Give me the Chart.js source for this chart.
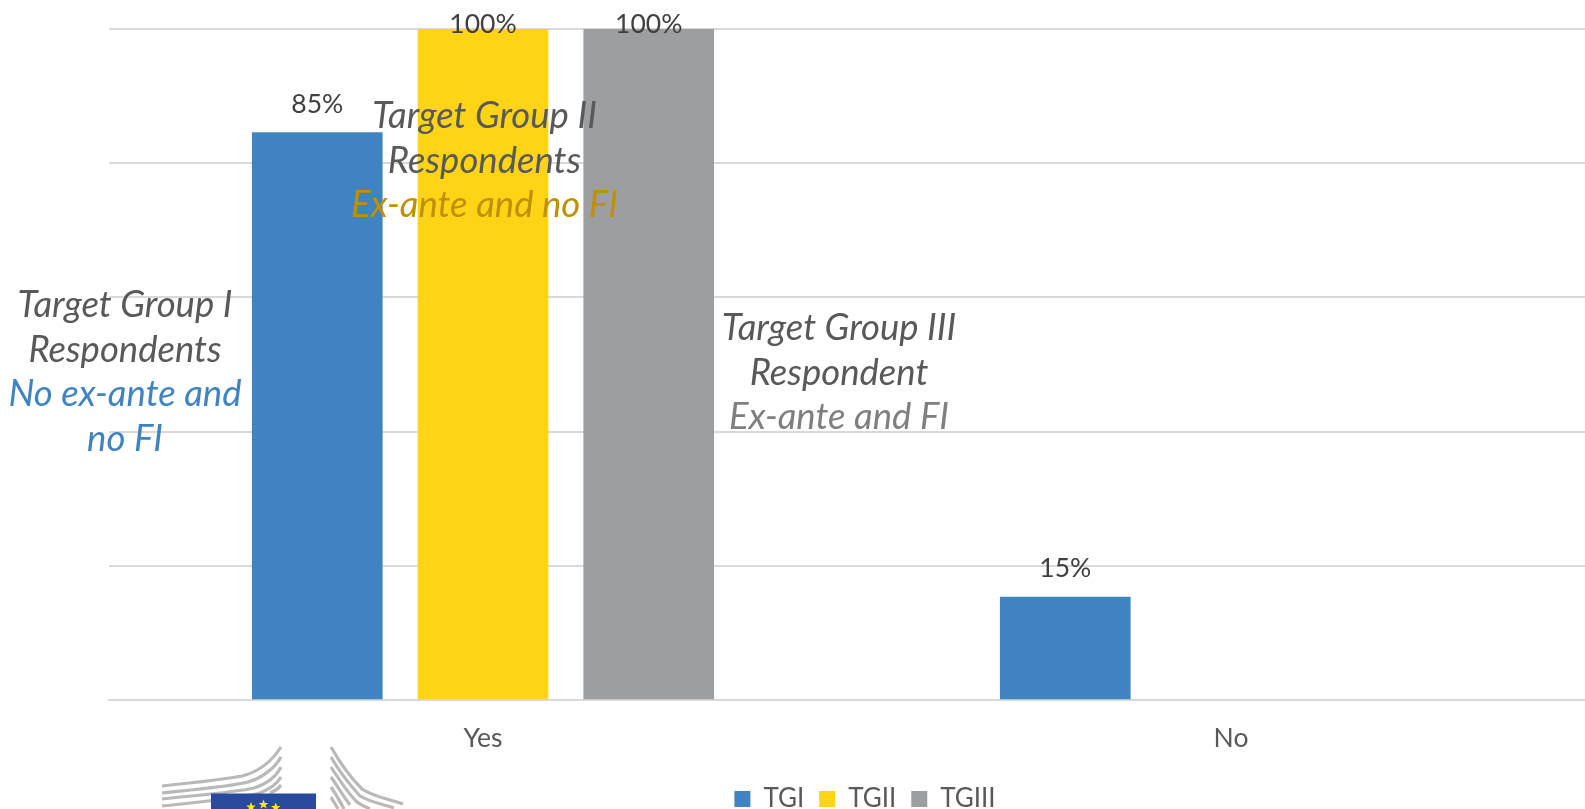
<!DOCTYPE html>
<html>
<head>
<meta charset="utf-8">
<title>Chart</title>
<script src="https://cdn.jsdelivr.net/npm/chart.js@4"></script>
<style>
  html, body { margin: 0; padding: 0; background: #fff; width: 1585px; height: 809px; overflow: hidden; }
  #wrap { position: relative; width: 1585px; height: 809px; overflow: hidden; }
  #wrap canvas { position: absolute; left: 0; top: 0; }
  .note { position: absolute; font: italic 36.5px/44.5px Lato, sans-serif; color: #595959; text-align: center; white-space: nowrap; transform: translateX(-50%); }
  #logo { position: absolute; left: 150px; top: 735px; }
</style>
</head>
<body>
<div id="wrap">
  <canvas id="chart" width="1605" height="841" style="width:1605px;height:841px"></canvas>

  <div class="note" style="left:125px;top:281px">Target Group I<br>Respondents<br><span style="color:#3f84c1">No ex-ante and<br>no FI</span></div>
  <div class="note" style="left:484.5px;top:92px">Target Group II<br>Respondents<br><span style="color:#bf9000">Ex-ante and no FI</span></div>
  <div class="note" style="left:839px;top:304px">Target Group III<br>Respondent<br><span style="color:#7f7f7f">Ex-ante and FI</span></div>

  <svg id="logo" width="270" height="74" viewBox="0 0 270 74" fill="none">
    <defs>
      <filter id="soft"><feGaussianBlur stdDeviation="0.6"/></filter>
      <path id="star" d="M0 -5 L1.3 -1.6 L4.8 -1.5 L2 0.7 L3 4.1 L0 2.1 L-3 4.1 L-2 0.7 L-4.8 -1.5 L-1.3 -1.6 Z"/>
    </defs>
    <g stroke="#b9b9b9" stroke-width="3.2" filter="url(#soft)">
      <path d="M12 51 C50 47 78 44 92 41 C108 37 122 26 131 12"/>
      <path d="M12 58 C50 54 84 51 98 47 C112 43 125 33 131 22"/>
      <path d="M12 64 C50 60 88 57 104 53 C116 49 126 42 131 32"/>
      <path d="M12 71 C50 67 92 63 110 58 C120 54 127 49 131 42"/>
      <path d="M120 58 C125 56 129 53 131 50"/>
      <path d="M181 12 C190 28 200 42 212 54 C222 61 238 64 253 69"/>
      <path d="M181 22 C190 38 200 50 210 61 C220 67 232 69 244 73"/>
      <path d="M181 32 C190 46 198 58 206 66 C210 70 216 72 220 74"/>
      <path d="M181 42 C188 52 194 62 200 70"/>
      <path d="M181 52 C185 58 190 66 194 74"/>
      <path d="M181 62 C183 66 186 70 188 74"/>
    </g>
    <rect x="61" y="58.5" width="105" height="16" fill="#2a4aa0"/>
    <g fill="#ffed00">
      <use href="#star" x="101" y="72"/>
      <use href="#star" x="113.5" y="69.5"/>
      <use href="#star" x="125.7" y="72.5"/>
    </g>
  </svg>
</div>
<script>
const categories = ["Yes", "No"];
const seriesNames = ["TGI", "TGII", "TGIII"];
const tgi = [84.6, 15.4];
const tgii = [100, 0];
const tgiii = [100, 0];
const seriesColors = ["#3f84c1", "#ffd416", "#9d9ea0"];

// percent labels above the bars, no datalabels plugin available here
const valueLabels = {
  id: "valueLabels",
  afterDatasetsDraw(chart) {
    const ctx = chart.ctx;
    ctx.save();
    ctx.font = "26.5px Lato, sans-serif";
    ctx.fillStyle = "#404040";
    ctx.textAlign = "center";
    ctx.textBaseline = "bottom";
    chart.data.datasets.forEach((ds, i) => {
      chart.getDatasetMeta(i).data.forEach((bar, j) => {
        if (ds.data[j] > 0) {
          // labels at the top of the axis get pushed down onto the bar
          const y = Math.max(bar.y - 15, chart.chartArea.top + 9);
          ctx.fillText(Math.round(ds.data[j]) + "%", bar.x, y);
        }
      });
    });
    ctx.restore();
  }
};

// legend sits a bit right of the plot centre in the original
const legendNudge = {
  id: "legendNudge",
  afterLayout(chart) {
    chart.legend.left += 8;
    chart.legend.right += 8;
    chart.legend.top += 3;
    chart.legend.bottom += 3;
  }
};

new Chart(document.getElementById("chart"), {
  type: "bar",
  data: {
    labels: categories,
    datasets: [
      { label: seriesNames[0], data: tgi, backgroundColor: seriesColors[0] },
      { label: seriesNames[1], data: tgii, backgroundColor: seriesColors[1] },
      { label: seriesNames[2], data: tgiii, backgroundColor: seriesColors[2] }
    ]
  },
  options: {
    responsive: false,
    animation: false,
    layout: { padding: { left: 109, right: 0, top: 29, bottom: 22 } },
    datasets: { bar: { categoryPercentage: 0.6647, barPercentage: 0.7885 } },
    scales: {
      x: {
        grid: { display: false },
        border: { color: "#d9d9d9", width: 2 },
        ticks: { color: "#595959", font: { family: "Lato, sans-serif", size: 26.5 }, padding: 14 }
      },
      y: {
        min: 0,
        max: 100,
        ticks: { display: false, stepSize: 20 },
        grid: { color: "#d9d9d9", lineWidth: 2, drawTicks: false },
        border: { display: false }
      }
    },
    plugins: {
      tooltip: { enabled: false },
      legend: {
        position: "bottom",
        labels: {
          boxWidth: 16,
          boxHeight: 16,
          padding: 15,
          color: "#595959",
          font: { family: "Lato, sans-serif", size: 26 }
        }
      }
    }
  },
  plugins: [valueLabels, legendNudge]
});
</script>
</body>
</html>
